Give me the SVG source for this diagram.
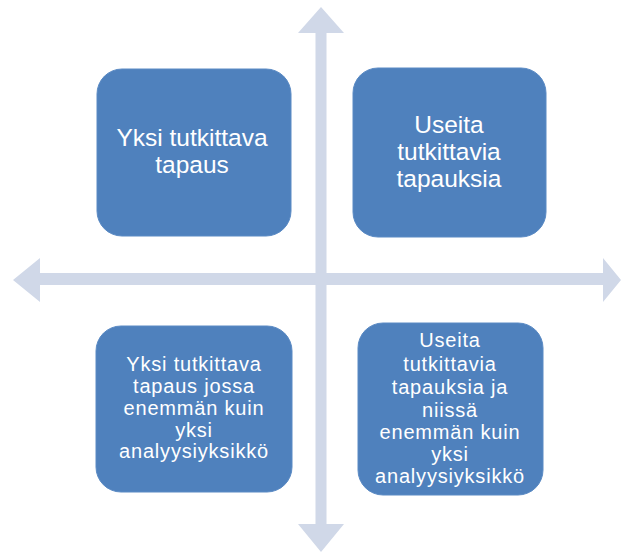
<svg xmlns="http://www.w3.org/2000/svg" width="621" height="554" viewBox="0 0 621 554">
<style>
.box{fill:#4F81BD;stroke:#5A8AC4;stroke-width:1}
.arrow{fill:#D0D8E8}
.big{font-family:"Liberation Sans",Arial,sans-serif;font-size:24.5px;fill:#FFFFFF;text-anchor:middle}
.small{font-family:"Liberation Sans",Arial,sans-serif;font-size:20px;letter-spacing:0.8px;fill:#FFFFFF;text-anchor:middle}
</style>
<rect width="621" height="554" fill="#FFFFFF"/>
<g id="connectors">
<polygon class="arrow" points="321,7 344,33 326.5,33 326.5,524 344,524 321,552 298,524 315.5,524 315.5,33 298,33"/>
<polygon class="arrow" points="13,280 40,258 40,273 603,273 603,258 621,280 603,302 603,285 40,285 40,302"/>
</g>
<g id="node1">
<rect class="box" x="97" y="69" width="194" height="167" rx="25"/>
<text class="big" x="192" y="146">Yksi tutkittava</text>
<text class="big" x="192" y="173">tapaus</text>
</g>
<g id="node2">
<rect class="box" x="353" y="68" width="193" height="169" rx="25"/>
<text class="big" x="449" y="133">Useita</text>
<text class="big" x="449" y="160">tutkittavia</text>
<text class="big" x="449" y="187">tapauksia</text>
</g>
<g id="node3">
<rect class="box" x="96" y="326" width="196" height="166" rx="25"/>
<text class="small" x="194" y="371">Yksi tutkittava</text>
<text class="small" x="194" y="393">tapaus  jossa</text>
<text class="small" x="194" y="415">enemmän  kuin</text>
<text class="small" x="194" y="437">yksi</text>
<text class="small" x="194" y="458">analyysiyksikkö</text>
</g>
<g id="node4">
<rect class="box" x="358" y="323" width="185" height="172" rx="25"/>
<text class="small" x="450" y="347">Useita</text>
<text class="small" x="450" y="371">tutkittavia</text>
<text class="small" x="450" y="394">tapauksia ja</text>
<text class="small" x="450" y="417">niissä</text>
<text class="small" x="450" y="439">enemmän  kuin</text>
<text class="small" x="450" y="461">yksi</text>
<text class="small" x="450" y="483">analyysiyksikkö</text>
</g>
</svg>
